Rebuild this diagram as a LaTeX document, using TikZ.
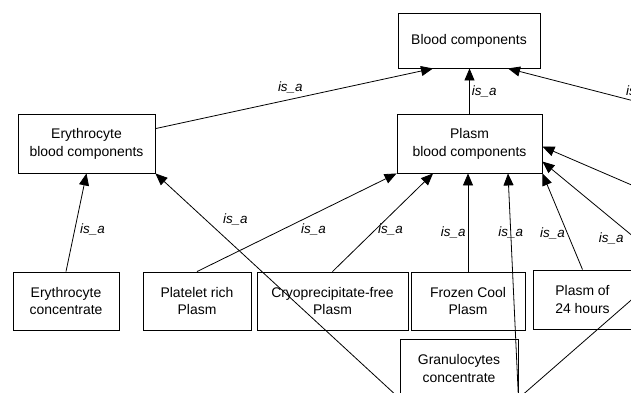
\documentclass[tikz,border=0pt]{standalone}
\usepackage{fontspec}
\setmainfont{Liberation Sans}
\usetikzlibrary{arrows.meta,calc}

\begin{document}
\begin{tikzpicture}[
    x=1bp, y=-1bp,
    concept/.style={draw, line width=0.9bp, inner sep=0pt, align=center, font=\fontsize{14}{18}\selectfont},
    isa/.style={->, line width=0.8bp, >={Triangle[length=12bp, width=10bp]}},
    rel/.style={font=\fontsize{13.5}{16}\selectfont\itshape, inner sep=2bp}
]
    \useasboundingbox (0,0) rectangle (631,392);
    \clip (0,0) rectangle (631,392);

    % Top
    \node[concept, minimum width=142bp, minimum height=55bp] (blood) at (469,40.5) {Blood components};

    % Second level
    \node[concept, minimum width=137bp, minimum height=59bp] (erybc) at (86.5,143.5) {Erythrocyte\\blood components};
    \node[concept, minimum width=145bp, minimum height=59bp] (plasmbc) at (469.5,143.5) {Plasm\\blood components};

    % Leaves
    \node[concept, minimum width=106bp, minimum height=58bp] (erycon) at (66,301) {Erythrocyte\\concentrate};
    \node[concept, minimum width=108bp, minimum height=58bp] (platelet) at (197,301) {Platelet rich\\Plasm};
    \node[concept, minimum width=151bp, minimum height=58bp] (cryo) at (332.5,301) {Cryoprecipitate-free\\Plasm};
    \node[concept, minimum width=114bp, minimum height=58bp] (frozen) at (468,301) {Frozen Cool\\Plasm};
    \node[concept, minimum width=99bp, minimum height=59bp] (plasm24) at (582.5,299.5) {Plasm of\\24 hours};
    \node[concept, minimum width=118bp, minimum height=59bp] (gran) at (459,368.5) {Granulocytes\\concentrate};

    % Ends outside the frame
    \coordinate (outA) at (700,118);
    \coordinate (outB) at (700,214.5);
    \coordinate (outC) at (700,291.6);
    \coordinate (outD) at (700,240);

    % is_a links
    \draw[isa] (erybc) -- ($(blood.south)+(-36,0)$) node[rel, pos=0.486, above, yshift=4bp] (r1) {is\_a};
    \draw[isa] (plasmbc.north) -- (plasmbc.north |- blood.south) node[rel, midway, right] (r2) {is\_a};
    \draw[isa] (outA) -- ($(blood.south)+(39,0)$) node[rel, pos=0.32, above, yshift=3bp] (r3) {is\_a};
    \draw[isa] (erycon.north) -- (erybc.south) node[rel, pos=0.43, right, xshift=3bp] (r4) {is\_a};
    \draw[isa] (gran.south west) -- (erybc.south east) node[rel, pos=0.733, anchor=south west, yshift=6bp] (r5) {is\_a};
    \draw[isa] (platelet.north) -- (plasmbc.south west) node[rel, pos=0.51, below right] (r6) {is\_a};
    \draw[isa] (cryo.north) -- ($(plasmbc.south)+(-36.5,0)$) node[rel, pos=0.43, right] (r7) {is\_a};
    \draw[isa] (frozen.north) -- (frozen.north |- plasmbc.south) node[rel, pos=0.4, left] (r8) {is\_a};
    \draw[isa] (gran.south east) -- ($(plasmbc.south)+(38.5,0)$) node[rel, pos=0.738] (r9) {is\_a};
    \draw[isa] (plasm24.north) -- (plasmbc.south east) node[rel, pos=0.38, left] (r10) {is\_a};
    \draw[isa] (outB) -- ($(plasmbc.north east)+(0,33)$);
    \draw[isa] (outC) -- ($(plasmbc.north east)+(0,48)$) node[rel, pos=0.47, below left] (r12) {is\_a};
    \draw[isa] (gran.south east) -- (outD);

\end{tikzpicture}
\end{document}
